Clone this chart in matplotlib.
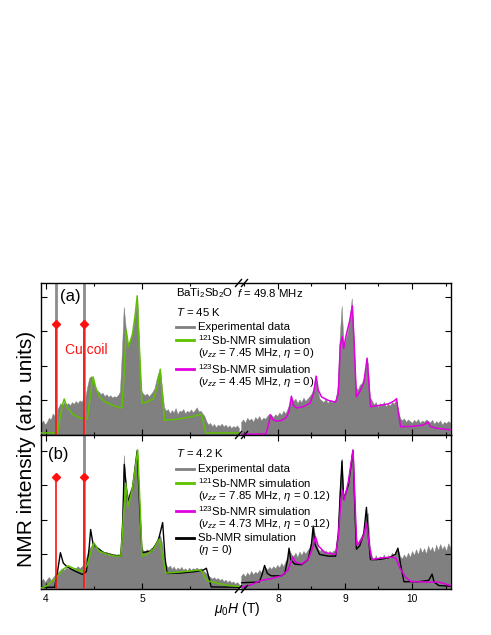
import numpy as np
import matplotlib
matplotlib.use('Agg')
import matplotlib.pyplot as plt
from matplotlib.lines import Line2D

plt.rcParams['font.family'] = ['Liberation Sans', 'DejaVu Sans']
plt.rcParams['mathtext.fontset'] = 'custom'
plt.rcParams['mathtext.rm'] = 'Liberation Sans'
plt.rcParams['mathtext.it'] = 'Liberation Sans:italic'
plt.rcParams['mathtext.bf'] = 'Liberation Sans:bold'

# ---------------- data ----------------
low_start, low_step = 3.95, 0.02     # field grid of the low-field segment (T)
high_start, high_step = 7.45, 0.03   # field grid of the high-field segment (T)

exp_a_low = [0.35, 0.42, 0.30, 0.38, 0.50, 0.45, 0.62, 0.55,
             0.70, 0.80, 0.92, 0.85, 0.95, 0.88, 0.92, 0.86, 0.95, 0.90, 0.98, 0.92, 1.00, 0.96, 1.05,
             1.10, 1.40, 1.65, 1.70, 1.55, 1.40, 1.30, 1.25, 1.18, 1.22, 1.12, 1.18, 1.10, 1.15, 1.08, 1.12, 1.10, 1.15, 1.25,
             2.40, 3.70, 3.10, 2.60, 2.70, 2.90, 3.10, 3.50, 4.02, 2.50, 1.30,
             1.20, 1.15, 1.20, 1.12, 1.18, 1.25, 1.35, 1.60, 1.80, 1.85, 1.30, 0.80,
             0.70, 0.75, 0.62, 0.72, 0.65, 0.78, 0.60, 0.70, 0.68, 0.75, 0.62, 0.70, 0.66, 0.74, 0.65, 0.72, 0.80, 0.68, 0.70, 0.62, 0.55,
             0.40, 0.30, 0.35, 0.25, 0.32, 0.22, 0.30, 0.26, 0.33, 0.24, 0.30, 0.22, 0.28, 0.20, 0.26, 0.22, 0.28, 0.20]

exp_a_high = [0.38, 0.45, 0.35, 0.50, 0.42, 0.48, 0.38, 0.52, 0.45, 0.55, 0.42, 0.50, 0.47, 0.55,
              0.62, 0.58, 0.52, 0.60, 0.55, 0.65, 0.58, 0.70, 0.62, 0.75, 0.90, 1.10, 0.98, 1.05, 0.92, 1.02,
              0.95, 1.08, 0.98, 1.05, 1.12, 1.20, 1.35, 1.68, 1.30, 1.05, 1.00, 0.95, 1.05, 0.92, 1.00, 0.95,
              0.98, 1.02, 1.40, 2.80, 3.73, 2.55, 2.75, 3.00, 3.35, 3.95, 2.80, 1.40, 1.30, 1.45, 1.50, 1.65,
              1.95, 2.10, 1.10, 1.00, 0.88, 0.95, 0.80, 0.92, 0.85, 0.96, 0.82, 0.90, 0.85, 0.95, 0.90, 1.02,
              0.75, 0.50, 0.42, 0.48, 0.38, 0.45, 0.40, 0.35, 0.44, 0.38, 0.46, 0.35, 0.42, 0.38, 0.45, 0.40,
              0.36, 0.44, 0.32, 0.40, 0.35, 0.42, 0.30, 0.38, 0.34, 0.40, 0.36]

exp_b_low = [0.22, 0.30, 0.20, 0.28, 0.35, 0.26, 0.32, 0.40,
             0.45, 0.50, 0.55, 0.60, 0.55, 0.62, 0.58, 0.64, 0.56, 0.62, 0.60, 0.66, 0.60, 0.65, 0.70,
             0.85, 1.00, 1.15, 1.25, 1.32, 1.30, 1.20, 1.12, 1.05, 1.10, 1.02, 1.08, 0.98, 1.04, 0.96, 1.00, 0.95, 1.02, 0.98,
             1.60, 3.87, 3.10, 2.67, 2.80, 2.95, 3.15, 3.50, 4.02, 2.60, 1.25,
             1.12, 1.08, 1.15, 1.10, 1.18, 1.20, 1.28, 1.40, 1.52, 1.55, 1.30, 0.85,
             0.70, 0.62, 0.68, 0.58, 0.65, 0.55, 0.62, 0.57, 0.64, 0.55, 0.60, 0.52, 0.62, 0.55, 0.60, 0.58, 0.62, 0.56, 0.60, 0.55, 0.50,
             0.45, 0.38, 0.35, 0.30, 0.34, 0.28, 0.32, 0.25, 0.30, 0.22, 0.27, 0.20, 0.25, 0.18, 0.22, 0.15, 0.20, 0.14]

exp_b_high = [0.38, 0.45, 0.36, 0.48, 0.40, 0.52, 0.42, 0.50, 0.45, 0.55, 0.48, 0.58, 0.62, 0.56,
              0.64, 0.58, 0.66, 0.60, 0.70, 0.62, 0.75, 0.65, 0.80, 0.92, 1.12, 1.00, 0.95, 1.05, 0.92, 1.08,
              0.98, 1.10, 1.02, 1.12, 1.20, 1.45, 1.80, 1.45, 1.20, 1.10, 1.15, 1.05, 1.12, 1.02, 1.10, 1.05,
              1.12, 1.08, 1.50, 2.90, 3.78, 2.57, 2.80, 3.05, 3.40, 3.95, 3.00, 1.50, 1.35, 1.45, 1.55, 1.70,
              2.10, 2.20, 1.20, 0.95, 0.85, 0.98, 0.80, 0.95, 0.88, 1.00, 0.85, 0.98, 0.90, 1.05, 0.95, 1.10,
              1.15, 0.95, 0.88, 1.00, 0.90, 1.05, 0.92, 1.10, 0.98, 1.15, 1.00, 1.20, 1.05, 1.18, 1.02, 1.25,
              1.10, 1.22, 1.05, 1.28, 1.12, 1.30, 1.15, 1.25, 1.10, 1.32, 1.20]

# Cu-coil signals
coil_field = [4.105, 4.40]
coil_marker_a = [3.20, 3.20]
coil_marker_b = [3.24, 3.24]
coil_spike_a = [6.0, 6.0]     # off-scale gray spikes
coil_spike_b = [0.0, 6.0]

# 121Sb simulations (low field)
sim121_a_x = [3.95, 4.12, 4.14, 4.17, 4.19, 4.22, 4.27, 4.33, 4.40, 4.43, 4.46, 4.49, 4.52, 4.56, 4.62,
              4.70, 4.79, 4.81, 4.835, 4.86, 4.90, 4.93, 4.95, 4.975, 5.00, 5.05, 5.12, 5.16, 5.19,
              5.215, 5.235, 5.35, 5.50, 5.58, 5.62, 5.645, 5.665, 6.03]
sim121_a_y = [0.06, 0.06, 0.40, 0.85, 1.04, 0.80, 0.62, 0.52, 0.46, 0.46, 1.10, 1.68, 1.35, 1.10, 0.95,
              0.85, 0.78, 1.60, 3.03, 2.55, 2.90, 3.50, 4.02, 2.40, 0.92, 0.95, 1.05, 1.40, 1.90,
              1.00, 0.43, 0.45, 0.52, 0.57, 0.60, 0.30, 0.06, 0.06]

sim121_b_x = [3.95, 4.00, 4.10, 4.17, 4.23, 4.30, 4.38, 4.43, 4.47, 4.50, 4.55, 4.62, 4.72, 4.78, 4.80,
              4.83, 4.855, 4.90, 4.93, 4.955, 4.98, 5.00, 5.05, 5.12, 5.18, 5.21, 5.25, 5.35, 5.50,
              5.60, 5.63, 5.66, 5.70, 5.80, 5.90, 6.03]
sim121_b_y = [0.03, 0.08, 0.30, 0.55, 0.67, 0.58, 0.50, 0.70, 1.10, 1.33, 1.10, 1.02, 0.95, 0.95, 1.80,
              3.06, 2.38, 2.90, 3.50, 4.02, 2.40, 0.95, 1.00, 1.15, 1.44, 1.00, 0.46, 0.48, 0.52,
              0.55, 0.50, 0.30, 0.22, 0.16, 0.10, 0.07]

# 123Sb simulations (high field)
sim123_a_x = [7.45, 7.82, 7.86, 7.89, 7.92, 7.98, 8.05, 8.12, 8.16, 8.20, 8.23, 8.28, 8.38, 8.48, 8.53,
              8.57, 8.60, 8.65, 8.75, 8.86, 8.90, 8.93, 8.96, 8.98, 9.02, 9.07, 9.11, 9.14, 9.17,
              9.22, 9.28, 9.33, 9.36, 9.38, 9.50, 9.65, 9.73, 9.77, 9.80, 9.83, 10.00, 10.15, 10.20,
              10.24, 10.27, 10.35, 10.58]
sim123_a_y = [0.02, 0.03, 0.30, 0.58, 0.45, 0.40, 0.42, 0.50, 0.65, 1.12, 0.85, 0.78, 0.82, 0.92, 1.20,
              1.70, 1.30, 1.10, 1.00, 0.95, 1.20, 2.60, 2.84, 2.50, 2.90, 3.30, 3.73, 2.50, 1.10,
              1.25, 1.50, 2.22, 1.40, 0.82, 0.85, 0.90, 0.98, 1.05, 0.60, 0.24, 0.25, 0.28, 0.32,
              0.38, 0.25, 0.20, 0.15]

sim123_b_x = [7.45, 7.60, 7.75, 7.90, 8.05, 8.15, 8.22, 8.26, 8.35, 8.45, 8.52, 8.56, 8.60, 8.70, 8.86,
              8.90, 8.94, 8.965, 8.99, 9.05, 9.12, 9.15, 9.175, 9.22, 9.28, 9.32, 9.36, 9.40, 9.55,
              9.70, 9.76, 9.82, 9.90, 9.98, 10.20, 10.40, 10.58]
sim123_b_y = [0.05, 0.12, 0.25, 0.30, 0.38, 0.55, 0.92, 0.78, 0.72, 0.85, 1.20, 1.51, 1.25, 1.05, 1.00,
              1.50, 2.60, 2.85, 2.57, 3.10, 4.02, 2.50, 1.27, 1.35, 1.55, 1.90, 1.30, 0.85, 0.90,
              0.92, 0.89, 0.60, 0.35, 0.22, 0.20, 0.20, 0.10]

# Sb-NMR simulation with eta = 0 (panel b)
simeta0_low_x = [3.95, 4.09, 4.12, 4.15, 4.18, 4.22, 4.30, 4.38, 4.42, 4.45, 4.465, 4.49, 4.53, 4.60,
                 4.70, 4.78, 4.80, 4.815, 4.85, 4.90, 4.95, 4.975, 5.00, 5.10, 5.17, 5.215, 5.24,
                 5.26, 5.40, 5.55, 5.64, 5.67, 5.70, 5.72, 6.03]
simeta0_low_y = [0.05, 0.05, 0.50, 1.05, 0.75, 0.64, 0.52, 0.42, 0.50, 1.20, 1.72, 1.30, 1.20, 1.05,
                 0.98, 0.95, 2.00, 3.60, 2.50, 2.90, 4.00, 2.40, 1.05, 1.10, 1.40, 1.92, 0.90,
                 0.45, 0.46, 0.50, 0.55, 0.60, 0.30, 0.06, 0.05]
simeta0_high_x = [7.45, 7.72, 7.76, 7.80, 7.84, 7.90, 8.05, 8.10, 8.14, 8.165, 8.19, 8.25, 8.35, 8.45,
                  8.50, 8.525, 8.55, 8.62, 8.75, 8.86, 8.90, 8.93, 8.955, 8.98, 9.05, 9.12, 9.15,
                  9.17, 9.22, 9.28, 9.32, 9.35, 9.38, 9.50, 9.65, 9.75, 9.79, 9.83, 9.88, 10.10,
                  10.25, 10.30, 10.33, 10.40, 10.58]
simeta0_high_y = [0.18, 0.20, 0.40, 0.68, 0.45, 0.38, 0.38, 0.45, 0.80, 1.18, 0.85, 0.72, 0.70, 0.85,
                  1.30, 1.82, 1.30, 1.00, 0.95, 0.95, 1.60, 2.80, 3.70, 2.60, 3.00, 4.00, 2.20,
                  1.15, 1.25, 1.60, 2.36, 1.50, 0.85, 0.85, 0.90, 1.00, 1.18, 0.70, 0.21, 0.21,
                  0.25, 0.43, 0.20, 0.10, 0.08]

xlim_low = (3.948, 6.031)
xlim_high = (7.448, 10.582)
ylim_a = (0, 4.39)
ylim_b = (0, 4.45)

# ---------------- figure ----------------
W, H = 491, 635
fig = plt.figure(figsize=(W / 100, H / 100), dpi=100)

def fx(px):
    return px / W

def fy(py):
    return 1 - py / H

GRAY = '#808080'
GREEN = '#5ec000'
MAGENTA = '#e000e0'
RED = '#ff1010'

def grid(start, step, vals):
    return start + step * np.arange(len(vals))

def make_axes(top, bottom):
    axL = fig.add_axes([fx(41), fy(bottom), 200 / W, (bottom - top) / H])
    axR = fig.add_axes([fx(241), fy(bottom), 210 / W, (bottom - top) / H])
    for ax in (axL, axR):
        for s in ax.spines.values():
            s.set_linewidth(1.0)
        ax.tick_params(which='both', direction='in', top=True, labelsize=7.4, pad=3.5, width=0.8)
        ax.tick_params(which='major', length=4.5)
        ax.tick_params(which='minor', length=2.5)
        ax.set_yticks([1, 2, 3, 4])
        ax.set_yticklabels([])
    axL.spines['right'].set_visible(False)
    axR.spines['left'].set_visible(False)
    axL.tick_params(which='both', right=False, left=True)
    axR.tick_params(which='both', left=False, right=True)
    axL.set_xlim(*xlim_low)
    axR.set_xlim(*xlim_high)
    axL.set_xticks([4, 5])
    axL.set_xticks([4.5, 5.5], minor=True)
    axR.set_xticks([8, 9, 10])
    axR.set_xticks([7.5, 8.5, 9.5, 10.5], minor=True)
    return axL, axR

axaL, axaR = make_axes(283, 435)
axbL, axbR = make_axes(435, 589)

for ax in (axaL, axaR):
    ax.set_ylim(*ylim_a)
    ax.tick_params(labelbottom=False)
for ax in (axbL, axbR):
    ax.set_ylim(*ylim_b)

def draw_exp(ax, x, y):
    ax.fill_between(x, 0, y, color=GRAY, lw=0.3, edgecolor=GRAY, zorder=1)

# panel (a)
xa_low = grid(low_start, low_step, exp_a_low)
xa_high = grid(high_start, high_step, exp_a_high)
draw_exp(axaL, xa_low, exp_a_low)
draw_exp(axaR, xa_high, exp_a_high)
axaL.vlines(coil_field, 0, coil_spike_a, color='#8c8c8c', lw=2.0, zorder=1.5)
axaL.plot(sim121_a_x, sim121_a_y, color=GREEN, lw=1.1, zorder=3)
axaR.plot(sim123_a_x, sim123_a_y, color=MAGENTA, lw=1.1, zorder=3)
axaL.vlines(coil_field, 0, coil_marker_a, color=RED, lw=1.2, zorder=4)
axaL.plot(coil_field, coil_marker_a, 'D', color=RED, ms=4, zorder=5)

# panel (b)
xb_low = grid(low_start, low_step, exp_b_low)
xb_high = grid(high_start, high_step, exp_b_high)
draw_exp(axbL, xb_low, exp_b_low)
draw_exp(axbR, xb_high, exp_b_high)
axbL.vlines(coil_field, 0, coil_spike_b, color='#8c8c8c', lw=2.0, zorder=1.5)
axbL.plot(simeta0_low_x, simeta0_low_y, color='black', lw=1.0, zorder=2.5)
axbR.plot(simeta0_high_x, simeta0_high_y, color='black', lw=1.0, zorder=2.5)
axbL.plot(sim121_b_x, sim121_b_y, color=GREEN, lw=1.1, zorder=3)
axbR.plot(sim123_b_x, sim123_b_y, color=MAGENTA, lw=1.1, zorder=3)
axbL.vlines(coil_field, 0, coil_marker_b, color=RED, lw=1.2, zorder=4)
axbL.plot(coil_field, coil_marker_b, 'D', color=RED, ms=4, zorder=5)

# break marks
for yb in (283, 435, 589):
    for x0 in (235.5, 241.5):
        fig.add_artist(Line2D([fx(x0), fx(x0 + 6)], [fy(yb + 3.5), fy(yb - 3.5)],
                              color='black', lw=1.0))

# texts
FS = 8.2
def ftext(px, py, s, **kw):
    kw.setdefault('fontsize', FS)
    kw.setdefault('va', 'center')
    kw.setdefault('ha', 'left')
    fig.text(fx(px), fy(py), s, **kw)

def handle(py, color):
    fig.add_artist(Line2D([fx(176), fx(194)], [fy(py), fy(py)], color=color, lw=2.0))

ftext(70, 296.5, '(a)', fontsize=12, ha='center')
ftext(58.5, 454, '(b)', fontsize=12, ha='center')
ftext(65, 349.5, 'Cu coil', fontsize=10, color=RED)

ftext(176, 293, 'BaTi$_2$Sb$_2$O')
ftext(237, 293, '$f$ = 49.8 MHz')
ftext(176, 312, '$T$ = 45 K')
handle(326.5, GRAY)
ftext(198, 326.5, 'Experimental data')
handle(340, GREEN)
ftext(198, 340, '$^{121}$Sb-NMR simulation')
ftext(198, 353, '($\\nu_{zz}$ = 7.45 MHz, $\\eta$ = 0)')
handle(369, MAGENTA)
ftext(198, 369, '$^{123}$Sb-NMR simulation')
ftext(198, 382, '($\\nu_{zz}$ = 4.45 MHz, $\\eta$ = 0)')

ftext(176, 453, '$T$ = 4.2 K')
handle(469, GRAY)
ftext(198, 469, 'Experimental data')
handle(483, GREEN)
ftext(198, 483, '$^{121}$Sb-NMR simulation')
ftext(198, 496, '($\\nu_{zz}$ = 7.85 MHz, $\\eta$ = 0.12)')
handle(511, MAGENTA)
ftext(198, 511, '$^{123}$Sb-NMR simulation')
ftext(198, 524, '($\\nu_{zz}$ = 4.73 MHz, $\\eta$ = 0.12)')
handle(538, 'black')
ftext(198, 538, 'Sb-NMR simulation')
ftext(198, 550, '($\\eta$ = 0)')

ftext(27, 448.5, 'NMR intensity (arb. units)', fontsize=15, rotation=90, ha='center')
ftext(237, 609, '$\\mu_0H$ (T)', fontsize=10, ha='center')

fig.savefig('out.png', dpi=100)
